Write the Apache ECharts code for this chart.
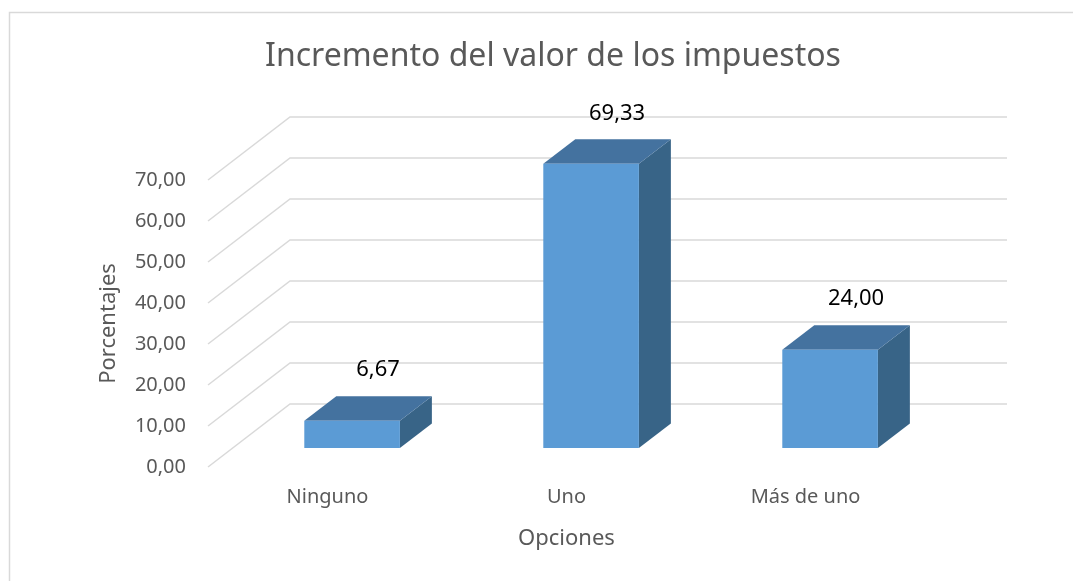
<!DOCTYPE html>
<html>
<head>
<meta charset="utf-8">
<script src="https://cdn.jsdelivr.net/npm/echarts@6/dist/echarts.min.js"></script>
<style>
  html, body { margin: 0; padding: 0; background: #fff; }
  #chart { width: 1073px; height: 581px; }
</style>
</head>
<body>
<div id="chart"></div>
<script>
// datos del gráfico
const categories = ['Ninguno', 'Uno', 'Más de uno'];
const values = [6.67, 69.33, 24.00];
const yTicks = [0, 10, 20, 30, 40, 50, 60, 70];

// profundidad del efecto 3D (px) y posición de las barras dentro del fondo
const DEPTH = [82, -63];
const F0 = 0.3, F1 = 0.69;
const fmt = v => v.toFixed(2).replace('.', ',');

const chart = echarts.init(document.getElementById('chart'));

function renderGrid(params, api) {
  const cs = params.coordSys;
  const y = api.coord([0, api.value(1)])[1];
  return {
    type: 'polyline',
    shape: {
      points: [
        [cs.x, y],
        [cs.x + DEPTH[0], y + DEPTH[1]],
        [cs.x + cs.width + DEPTH[0], y + DEPTH[1]]
      ]
    },
    style: { stroke: '#d9d9d9', lineWidth: 1.5, fill: null },
    silent: true
  };
}

function renderBar(params, api) {
  const cat = api.value(0), v = api.value(1);
  const p0 = api.coord([cat, 0]);
  const p1 = api.coord([cat, v]);
  const bw = api.size([1, 0])[0] * 0.4;
  const fx = p0[0] + F0 * DEPTH[0], fy = F0 * DEPTH[1];
  const bx = p0[0] + F1 * DEPTH[0], by = F1 * DEPTH[1];
  const l = fx - bw / 2, r = fx + bw / 2;
  const bl = bx - bw / 2, br = bx + bw / 2;
  const top = p1[1] + fy, bot = p0[1] + fy;
  const btop = p1[1] + by, bbot = p0[1] + by;
  return {
    type: 'group',
    children: [
      {
        type: 'polygon',
        shape: { points: [[r, top], [br, btop], [br, bbot], [r, bot]] },
        style: { fill: '#386487' }
      },
      {
        type: 'polygon',
        shape: { points: [[l, top], [r, top], [br, btop], [bl, btop]] },
        style: { fill: '#44729f' }
      },
      {
        type: 'rect',
        shape: { x: l, y: top, width: bw, height: bot - top },
        style: { fill: '#5b9bd5' }
      },
      {
        type: 'text',
        x: bx - 6,
        y: btop - 26,
        style: {
          text: fmt(v),
          fill: '#000',
          fontSize: 22,
          fontFamily: 'Noto Sans',
          align: 'center',
          verticalAlign: 'middle'
        }
      }
    ]
  };
}

chart.setOption({
  backgroundColor: '#fff',
  animation: false,
  title: {
    text: 'Incremento del valor de los impuestos',
    left: 548,
    top: 36,
    textAlign: 'center',
    textStyle: { color: '#595959', fontSize: 32, fontWeight: 'normal', fontFamily: 'Noto Sans' }
  },
  graphic: [{
    type: 'rect',
    shape: { x: 9.5, y: 12.5, width: 1200, height: 700 },
    style: { fill: null, stroke: '#d9d9d9', lineWidth: 1.5 },
    silent: true
  }],
  grid: { left: 208, top: 180, width: 717, height: 287 },
  xAxis: {
    type: 'category',
    data: categories,
    name: 'Opciones',
    nameLocation: 'middle',
    nameGap: 61,
    nameTextStyle: { color: '#595959', fontSize: 22, fontFamily: 'Noto Sans' },
    axisLine: { show: false },
    axisTick: { show: false },
    axisLabel: { color: '#595959', fontSize: 20, fontFamily: 'Noto Sans', margin: 20 }
  },
  yAxis: {
    type: 'value',
    min: 0,
    max: 70,
    interval: 10,
    name: 'Porcentajes',
    nameLocation: 'middle',
    nameGap: 88,
    nameTextStyle: { color: '#595959', fontSize: 22, fontFamily: 'Noto Sans' },
    axisLine: { show: false },
    axisTick: { show: false },
    splitLine: { show: false },
    axisLabel: { color: '#595959', fontSize: 20, fontFamily: 'Noto Sans', margin: 22, formatter: fmt }
  },
  series: [
    {
      type: 'custom',
      renderItem: renderGrid,
      data: yTicks.map(v => [0, v]),
      encode: { x: 0, y: 1 },
      clip: false,
      silent: true,
      z: 1
    },
    {
      type: 'custom',
      renderItem: renderBar,
      data: values.map((v, i) => [i, v]),
      encode: { x: 0, y: 1 },
      clip: false,
      z: 2
    }
  ]
});
</script>
</body>
</html>
